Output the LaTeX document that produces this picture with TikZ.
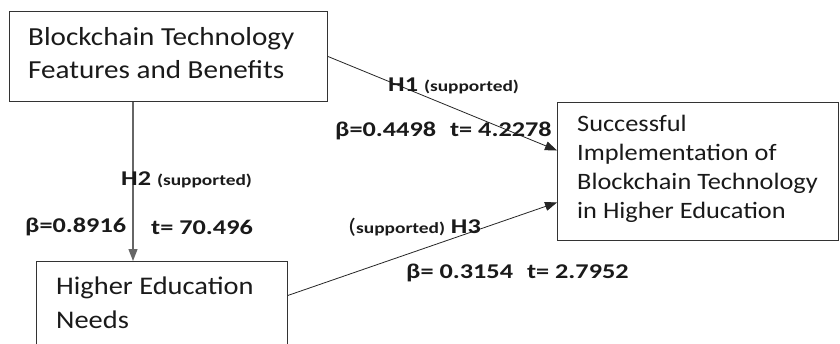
\documentclass[tikz,border=0pt]{standalone}
\usepackage{fontspec}
\setmainfont[FakeStretch=1.12]{Carlito}
\newfontfamily\lblfont[FakeStretch=1.25]{Carlito}
\usetikzlibrary{arrows.meta}
\definecolor{ink}{HTML}{1A1A1A}
\newcommand{\smallsup}[1]{{\fontsize{15.5}{18}\selectfont #1}}
\tikzset{
  box/.style={draw=black!80, line width=0.9pt, rectangle, inner sep=0pt, anchor=north west},
  boxtext/.style={anchor=west, align=left, inner sep=0pt, text=ink},
  lbl/.style={anchor=west, inner sep=0pt, text=ink, font=\lblfont\fontsize{21}{24}\selectfont\bfseries},
  arr/.style={draw=black!85, line width=0.8pt, -{Triangle[length=12pt,width=9pt]}},
}
\begin{document}
\begin{tikzpicture}[x=1pt,y=-1pt]
\clip (0,0) rectangle (840,343);
\fill[white] (0,0) rectangle (840,343);
% boxes
\node[box, minimum width=318pt, minimum height=90pt] (bt) at (9,11) {};
\node[box, minimum width=281pt, minimum height=138pt] (sim) at (557,102) {};
\node[box, minimum width=251pt, minimum height=100pt] (hn) at (36,261) {};
% box texts
\node[boxtext, font=\fontsize{26}{33}\selectfont] (bttext) at (28,53)
  {Blockchain Technology\\Features and Benefits};
\node[boxtext, font=\fontsize{23.5}{29}\selectfont] (simtext) at (577,169)
  {Successful\\Implementation of\\Blockchain Technology\\in Higher Education};
\node[boxtext, font=\fontsize{25.4}{34}\selectfont] (hntext) at (56,303)
  {Higher Education\\Needs};
% connectors
\coordinate (h2x) at (133,0);
\draw[arr, draw=black!60, line width=1.3pt] (bt.south -| h2x) -- (hn.north -| h2x);
\draw[arr] (bt.east) -- ([yshift=21pt]sim.west);
\draw[arr] ([yshift=16pt]hn.east) -- ([yshift=-31pt]sim.west);
% labels
\node[lbl] (h1) at (388,86) {H1 \smallsup{(supported)}};
\node[lbl] (h1v) at (335,131) {β=0.4498\hspace{14pt}t= 4.2278};
\node[lbl] (h2) at (121,180) {H2 \smallsup{(supported)}};
\node[lbl] (h2b) at (25,227) {β=0.8916};
\node[lbl] (h2t) at (151,227) {t= 70.496};
\node[lbl] (h3) at (348,227) {{\mdseries(}\smallsup{supported)} H3};
\node[lbl] (h3v) at (406,273) {β= 0.3154\hspace{14pt}t= 2.7952};
\end{tikzpicture}
\end{document}
